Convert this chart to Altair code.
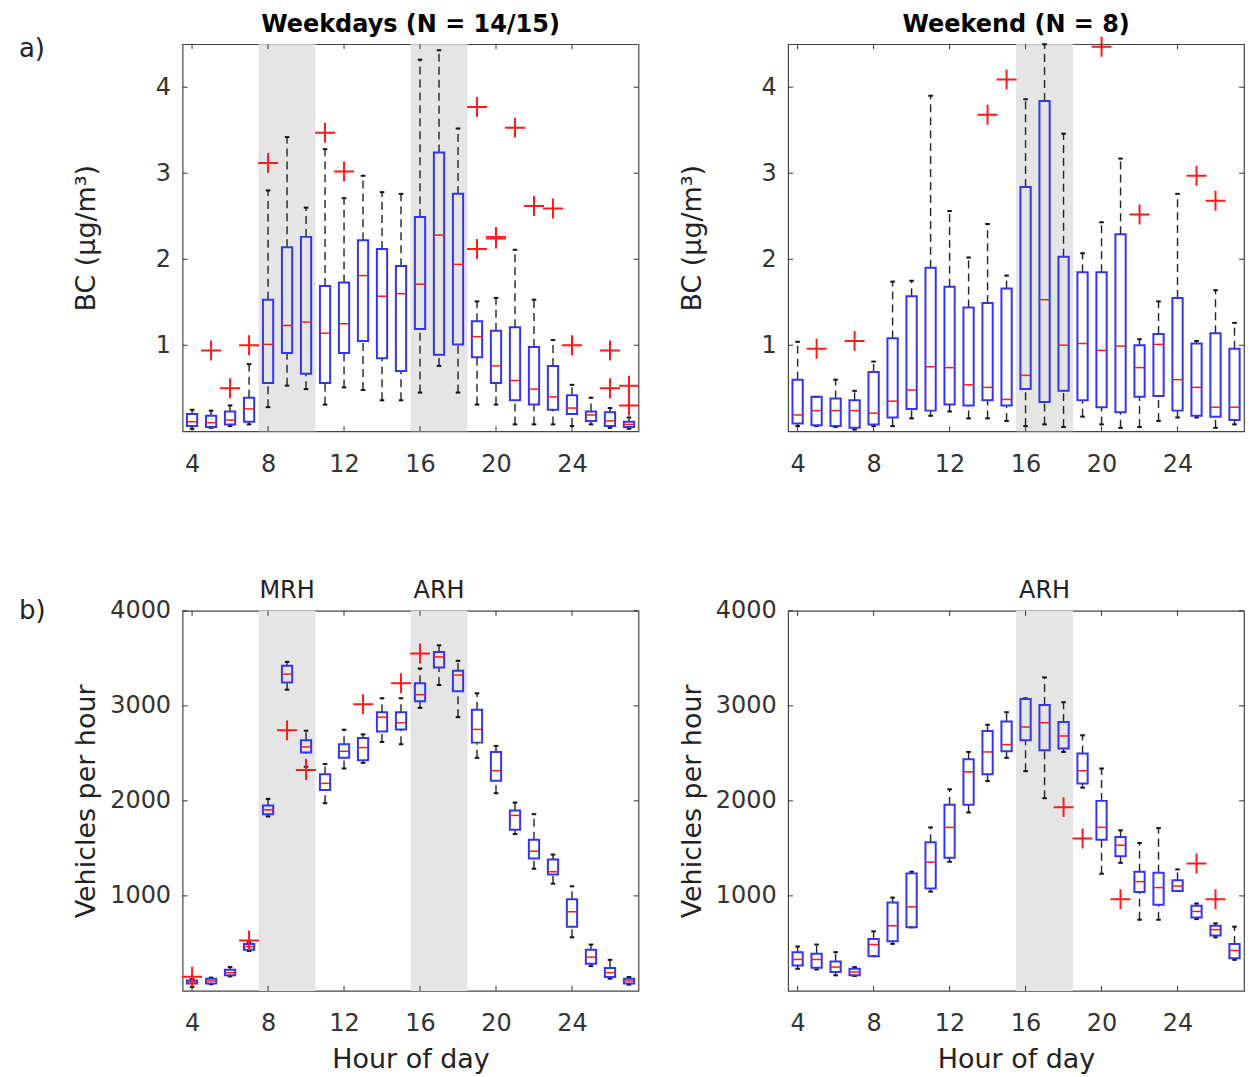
import altair as alt
import pandas as pd

hours = list(range(4, 28))
x_ticks = [4, 8, 12, 16, 20, 24]

# ---- Weekday black carbon (a, left) ----
wd_bc_q1 = [0.06, 0.05, 0.08, 0.11, 0.56, 0.91, 0.67, 0.56, 0.91, 1.05, 0.85, 0.70, 1.19, 0.89, 1.01, 0.86, 0.56, 0.36, 0.31, 0.25, 0.20, 0.12, 0.06, 0.05]
wd_bc_med = [0.11, 0.10, 0.13, 0.26, 1.01, 1.23, 1.27, 1.14, 1.25, 1.81, 1.57, 1.60, 1.71, 2.28, 1.94, 1.10, 0.76, 0.59, 0.49, 0.40, 0.27, 0.19, 0.12, 0.08]
wd_bc_q3 = [0.20, 0.18, 0.23, 0.39, 1.53, 2.14, 2.26, 1.69, 1.73, 2.22, 2.12, 1.92, 2.49, 3.24, 2.76, 1.28, 1.17, 1.21, 0.98, 0.76, 0.42, 0.23, 0.22, 0.11]
wd_bc_lo = [0.03, 0.04, 0.06, 0.08, 0.28, 0.53, 0.49, 0.31, 0.51, 0.48, 0.36, 0.36, 0.45, 0.76, 0.45, 0.31, 0.31, 0.08, 0.08, 0.08, 0.06, 0.08, 0.04, 0.03]
wd_bc_hi = [0.25, 0.24, 0.30, 0.78, 2.80, 3.42, 2.60, 3.28, 2.71, 2.97, 2.78, 2.76, 4.32, 4.43, 3.52, 1.51, 1.55, 2.11, 1.53, 1.06, 0.54, 0.39, 0.27, 0.16]
wd_bc_out_h = [5, 6, 7, 8, 11, 12, 19, 19, 20, 20, 21, 22, 23, 24, 26, 26, 27, 27]
wd_bc_out_v = [0.94, 0.50, 1.00, 3.12, 3.47, 3.02, 2.12, 3.77, 2.24, 2.26, 3.53, 2.62, 2.59, 1.00, 0.94, 0.50, 0.53, 0.30]

# ---- Weekend black carbon (a, right) ----
we_bc_q1 = [0.09, 0.07, 0.06, 0.04, 0.08, 0.16, 0.26, 0.24, 0.31, 0.30, 0.36, 0.30, 0.49, 0.34, 0.47, 0.36, 0.28, 0.22, 0.40, 0.41, 0.24, 0.18, 0.17, 0.13]
we_bc_med = [0.19, 0.24, 0.24, 0.24, 0.21, 0.35, 0.48, 0.75, 0.74, 0.54, 0.51, 0.37, 0.65, 1.53, 1.00, 1.02, 0.94, 0.99, 0.74, 1.01, 0.60, 0.51, 0.28, 0.28]
we_bc_q3 = [0.60, 0.40, 0.38, 0.36, 0.69, 1.08, 1.57, 1.90, 1.68, 1.44, 1.49, 1.66, 2.84, 3.84, 2.03, 1.85, 1.85, 2.29, 1.00, 1.13, 1.55, 1.02, 1.14, 0.96]
we_bc_lo = [0.06, 0.06, 0.05, 0.02, 0.06, 0.06, 0.15, 0.18, 0.23, 0.15, 0.15, 0.12, 0.06, 0.08, 0.05, 0.17, 0.08, 0.04, 0.05, 0.12, 0.16, 0.16, 0.04, 0.08]
we_bc_hi = [1.04, 0.40, 0.60, 0.47, 0.81, 1.74, 1.75, 3.90, 2.56, 2.02, 2.41, 1.81, 3.86, 4.50, 3.46, 2.07, 2.43, 3.17, 1.07, 1.51, 2.76, 1.05, 1.64, 1.26]
we_bc_out_h = [5, 7, 14, 15, 20, 22, 25, 26]
we_bc_out_v = [0.96, 1.05, 3.68, 4.09, 4.47, 2.52, 2.97, 2.68]

# ---- Weekday traffic (b, left) ----
wd_tr_q1 = [77, 77, 164, 432, 1860, 3247, 2508, 2115, 2453, 2428, 2731, 2752, 3049, 3404, 3153, 2613, 2212, 1697, 1394, 1226, 676, 286, 146, 77]
wd_tr_med = [94, 105, 192, 467, 1906, 3334, 2568, 2184, 2522, 2561, 2881, 2822, 3118, 3515, 3324, 2752, 2317, 1847, 1470, 1254, 833, 355, 192, 105]
wd_tr_q3 = [110, 129, 223, 495, 1951, 3421, 2637, 2279, 2596, 2662, 2933, 2933, 3237, 3568, 3369, 2958, 2515, 1899, 1592, 1383, 965, 432, 240, 129]
wd_tr_lo = [42, 70, 153, 420, 1836, 3170, 2359, 1975, 2341, 2400, 2620, 2596, 2979, 3219, 2881, 2453, 2080, 1651, 1286, 1129, 564, 261, 129, 66]
wd_tr_hi = [125, 140, 251, 510, 2021, 3463, 2738, 2387, 2749, 2700, 3080, 3080, 3393, 3637, 3474, 3132, 2578, 1982, 1860, 1435, 1101, 488, 327, 146]
wd_tr_out_h = [4, 7, 9, 10, 13, 15, 16]
wd_tr_out_v = [150, 530, 2742, 2324, 3017, 3237, 3550]

# ---- Weekend traffic (b, right) ----
we_tr_q1 = [268, 244, 199, 164, 366, 523, 669, 1077, 1401, 1958, 2279, 2522, 2637, 2533, 2550, 2184, 1592, 1418, 1042, 906, 1052, 773, 582, 345]
we_tr_med = [331, 331, 251, 199, 488, 686, 885, 1355, 1721, 2306, 2515, 2592, 2777, 2822, 2683, 2317, 1721, 1533, 1150, 1087, 1104, 836, 645, 425]
we_tr_q3 = [408, 390, 310, 233, 547, 930, 1237, 1564, 1958, 2439, 2735, 2836, 3073, 3010, 2829, 2498, 2000, 1620, 1254, 1244, 1164, 895, 686, 495]
we_tr_lo = [233, 226, 164, 157, 366, 495, 669, 1045, 1359, 1878, 2209, 2453, 2313, 2028, 2515, 2139, 1233, 1348, 749, 749, 1052, 756, 564, 327]
we_tr_hi = [467, 488, 408, 251, 627, 982, 1254, 1721, 2122, 2515, 2801, 2933, 3080, 3299, 3038, 2690, 2341, 1690, 1557, 1714, 1279, 920, 711, 676]
we_tr_out_h = [18, 19, 21, 25, 26]
we_tr_out_v = [1934, 1603, 965, 1341, 965]

# ---- Rush-hour bands ----
wd_band_lo = [7.5, 15.5]
wd_band_hi = [10.5, 18.5]
wd_band_lab = ["MRH", "ARH"]
we_band_lo = [15.5]
we_band_hi = [18.5]
we_band_lab = ["ARH"]

FONT = "DejaVu Sans"
W = 457
BLUE = "#3535ee"
RED = "#ff1a1a"
CROSS = "M-1,0L1,0M0,-1L0,1"


def panel(q1, med, q3, lo, hi, out_h, out_v, b_lo, b_hi, b_lab,
          ydom, yvals, ytitle, H, xtitle, title, letter, letter_y, show_band_labels):
    stats = pd.DataFrame({"hour": hours, "q1": q1, "med": med, "q3": q3, "lo": lo, "hi": hi})
    outs = pd.DataFrame({"hour": out_h, "v": out_v})
    bands = pd.DataFrame({"lo": b_lo, "hi": b_hi, "lab": b_lab})
    xt = pd.DataFrame({"t": x_ticks})
    yt = pd.DataFrame({"v": yvals})

    xs = alt.Scale(domain=[3.5, 27.5], nice=False, zero=False)
    ys = alt.Scale(domain=ydom, nice=False, zero=False)

    xaxis = alt.Axis(values=x_ticks, labelPadding=21, title=xtitle, titlePadding=11,
                     labelAngle=0, format="d")
    yaxis = alt.Axis(values=yvals, labelPadding=12, title=ytitle, titleX=-96, titleY=H / 2,
                     titleAngle=270, titleAlign="center", titleBaseline="middle", format="d")

    def X(f):
        return alt.X(f, scale=xs, axis=xaxis)

    def Y(f):
        return alt.Y(f, scale=ys, axis=yaxis)

    base = alt.Chart(stats).transform_calculate(
        xl="datum.hour - 0.27", xr="datum.hour + 0.27",
        cl="datum.hour - 0.12", cr="datum.hour + 0.12")

    band_layer = alt.Chart(bands).mark_rect(color="#e5e5e5").encode(
        x=X("lo:Q"), x2="hi:Q", y=alt.value(0), y2=alt.value(H))

    whisk_up = base.mark_rule(color="#222", strokeWidth=1.4, strokeDash=[8, 5]).encode(
        x=X("hour:Q"), y=Y("q3:Q"), y2="hi:Q")
    whisk_dn = base.mark_rule(color="#222", strokeWidth=1.4, strokeDash=[8, 5]).encode(
        x=X("hour:Q"), y=Y("lo:Q"), y2="q1:Q")
    cap_up = base.mark_rule(color="#111", strokeWidth=2).encode(
        x=X("cl:Q"), x2="cr:Q", y=Y("hi:Q"))
    cap_dn = base.mark_rule(color="#111", strokeWidth=2).encode(
        x=X("cl:Q"), x2="cr:Q", y=Y("lo:Q"))
    box = base.mark_rect(fillOpacity=0, stroke=BLUE, strokeWidth=2).encode(
        x=X("xl:Q"), x2="xr:Q", y=Y("q1:Q"), y2="q3:Q")
    median = base.mark_rule(color=RED, strokeWidth=1.5).encode(
        x=X("xl:Q"), x2="xr:Q", y=Y("med:Q"))
    outl = alt.Chart(outs).mark_point(shape=CROSS, size=400, stroke=RED, strokeWidth=2,
                                      filled=False, opacity=1).encode(
        x=X("hour:Q"), y=Y("v:Q"))

    tick_b = alt.Chart(xt).mark_rule(color="#333").encode(
        x=X("t:Q"), y=alt.value(H), y2=alt.value(H - 5))
    tick_t = alt.Chart(xt).mark_rule(color="#333").encode(
        x=X("t:Q"), y=alt.value(0), y2=alt.value(5))
    tick_l = alt.Chart(yt).mark_rule(color="#333").encode(
        y=Y("v:Q"), x=alt.value(0), x2=alt.value(5))
    tick_r = alt.Chart(yt).mark_rule(color="#333").encode(
        y=Y("v:Q"), x=alt.value(W - 5), x2=alt.value(W))

    layers = [band_layer, whisk_up, whisk_dn, cap_up, cap_dn, box, median, outl,
              tick_b, tick_t, tick_l, tick_r]

    if show_band_labels:
        lab = alt.Chart(bands).transform_calculate(mid="(datum.lo + datum.hi) / 2").mark_text(
            font=FONT, fontSize=24, baseline="alphabetic", color="#222").encode(
            x=X("mid:Q"), y=alt.value(-13), text="lab:N")
        layers.append(lab)

    if letter:
        let = alt.Chart(pd.DataFrame({"t": [letter]})).mark_text(
            font=FONT, fontSize=26, align="left", baseline="alphabetic", color="#222").encode(
            x=alt.value(-164), y=alt.value(letter_y), text="t:N")
        layers.append(let)

    if title:
        ttl = alt.Chart(pd.DataFrame({"t": [title]})).mark_text(
            font=FONT, fontSize=24, fontWeight="bold", align="center", baseline="alphabetic",
            color="black").encode(x=alt.value(W / 2), y=alt.value(-12), text="t:N")
        layers.append(ttl)

    return alt.layer(*layers).properties(width=W, height=H)


TOP_H = 388
BOT_H = 381

tl = panel(wd_bc_q1, wd_bc_med, wd_bc_q3, wd_bc_lo, wd_bc_hi, wd_bc_out_h, wd_bc_out_v,
           wd_band_lo, wd_band_hi, wd_band_lab, [0, 4.5], [1, 2, 3, 4], "BC (μg/m³)",
           TOP_H, "", "Weekdays (N = 14/15)", "a)", 13, False)
tr = panel(we_bc_q1, we_bc_med, we_bc_q3, we_bc_lo, we_bc_hi, we_bc_out_h, we_bc_out_v,
           we_band_lo, we_band_hi, we_band_lab, [0, 4.5], [1, 2, 3, 4], "BC (μg/m³)",
           TOP_H, "", "Weekend (N = 8)", "", 0, False)
bl = panel(wd_tr_q1, wd_tr_med, wd_tr_q3, wd_tr_lo, wd_tr_hi, wd_tr_out_h, wd_tr_out_v,
           wd_band_lo, wd_band_hi, wd_band_lab, [0, 4000], [1000, 2000, 3000, 4000],
           "Vehicles per hour", BOT_H, "Hour of day", "", "b)", 8, True)
br = panel(we_tr_q1, we_tr_med, we_tr_q3, we_tr_lo, we_tr_hi, we_tr_out_h, we_tr_out_v,
           we_band_lo, we_band_hi, we_band_lab, [0, 4000], [1000, 2000, 3000, 4000],
           "Vehicles per hour", BOT_H, "Hour of day", "", "", 0, True)

chart = alt.concat(tl, tr, bl, br, columns=2, spacing={"row": 180, "column": 150},
                   bounds="flush").properties(
    padding={"left": 10, "top": 3, "right": 4, "bottom": 0}
).configure_view(stroke="#444", strokeWidth=1.2).configure_axis(
    grid=False, domain=False, ticks=False,
    labelFont=FONT, labelFontSize=24, labelColor="#333",
    titleFont=FONT, titleFontSize=27, titleFontWeight="normal", titleColor="#222"
)

chart.save("out.html", embed_options={"renderer": "svg", "actions": False})
